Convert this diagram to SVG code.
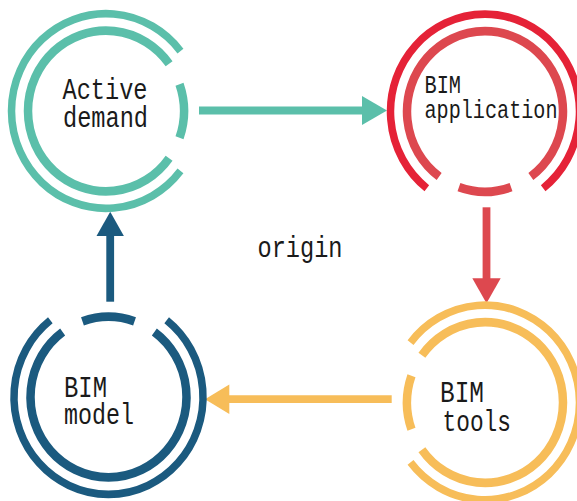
<svg xmlns="http://www.w3.org/2000/svg" xmlns:xlink="http://www.w3.org/1999/xlink" width="577" height="501" viewBox="0 0 577 501">
<style>
.outer{fill:none;stroke-width:7.5}
.inner{fill:none;stroke-width:8.5}
.lbl{font-family:"Liberation Mono","Noto Sans CJK SC",monospace;fill:#1a1a1a;font-size:30px}
.lbl2{font-family:"Liberation Mono","Noto Sans CJK SC",monospace;fill:#1a1a1a;font-size:26px}
.shaft{fill:none;stroke-width:7.8}
</style>
<defs>
<path id="ringOuter" d="M 74.47 58.18 A 94.5 94.5 0 1 1 74.47 -58.18"/>
<path id="ringInner" d="M 63.10 45.85 A 78 78 0 1 1 63.10 -45.85"/>
<path id="ringSmall" d="M 73.52 -26.04 A 78 78 0 0 1 73.52 26.04"/>
</defs>
<rect width="577" height="501" fill="#ffffff"/>
<g id="connectors">
<line class="shaft" x1="199" y1="110.5" x2="364" y2="110.5" stroke="#5BBFAA"/>
<polygon points="362,96 387,110.5 362,125" fill="#5BBFAA"/>
<line class="shaft" x1="486.5" y1="207.3" x2="486.5" y2="280" stroke="#DD484F"/>
<polygon points="472.3,278.3 500.7,278.3 486.5,303.3" fill="#DD484F"/>
<line class="shaft" x1="391.7" y1="399.2" x2="228" y2="399.2" stroke="#F7BD59"/>
<polygon points="229.3,384.5 229.3,413.9 205,399.2" fill="#F7BD59"/>
<line class="shaft" x1="110.2" y1="301.7" x2="110.2" y2="235" stroke="#1B5A7F"/>
<polygon points="96.5,236 123.9,236 110.2,211.7" fill="#1B5A7F"/>
</g>
<g id="node-active-demand">
<g transform="translate(106,111) scale(1,1.03)">
<use xlink:href="#ringOuter" class="outer" stroke="#5BBFAA"/>
<use xlink:href="#ringInner" class="inner" stroke="#5BBFAA"/>
<use xlink:href="#ringSmall" class="inner" stroke="#5BBFAA"/>
</g>
<text class="lbl" x="62.5" y="99.3" textLength="85" lengthAdjust="spacingAndGlyphs">Active</text>
<text class="lbl" x="63" y="126.7" textLength="85" lengthAdjust="spacingAndGlyphs">demand</text>
</g>
<g id="node-bim-application">
<g transform="translate(485,111.5) scale(1,1.03) rotate(90)">
<use xlink:href="#ringOuter" class="outer" stroke="#E52237"/>
<use xlink:href="#ringInner" class="inner" stroke="#DD484F"/>
<use xlink:href="#ringSmall" class="inner" stroke="#DD484F"/>
</g>
<text class="lbl2" x="424.5" y="93.3" textLength="36.5" lengthAdjust="spacingAndGlyphs">BIM</text>
<text class="lbl2" x="424.5" y="118" textLength="133" lengthAdjust="spacingAndGlyphs">application</text>
</g>
<g id="node-bim-model">
<g transform="translate(108.5,397) scale(1,1.03) rotate(-90)">
<use xlink:href="#ringOuter" class="outer" stroke="#1B5A7F"/>
<use xlink:href="#ringInner" class="inner" stroke="#1B5A7F"/>
<use xlink:href="#ringSmall" class="inner" stroke="#1B5A7F"/>
</g>
<text class="lbl" x="64" y="396.7" textLength="43" lengthAdjust="spacingAndGlyphs">BIM</text>
<text class="lbl" x="64" y="424" textLength="70" lengthAdjust="spacingAndGlyphs">model</text>
</g>
<g id="node-bim-tools">
<g transform="translate(485,402.5) scale(1,1.03) rotate(180)">
<use xlink:href="#ringOuter" class="outer" stroke="#F7BD59"/>
<use xlink:href="#ringInner" class="inner" stroke="#F7BD59"/>
<use xlink:href="#ringSmall" class="inner" stroke="#F7BD59"/>
</g>
<text class="lbl" x="440" y="401.7" textLength="44" lengthAdjust="spacingAndGlyphs">BIM</text>
<text class="lbl" x="442.5" y="431" textLength="68.5" lengthAdjust="spacingAndGlyphs">tools</text>
</g>
<g id="label-origin">
<text class="lbl" x="257.5" y="257.3" textLength="85" lengthAdjust="spacingAndGlyphs">origin</text>
</g>
</svg>
